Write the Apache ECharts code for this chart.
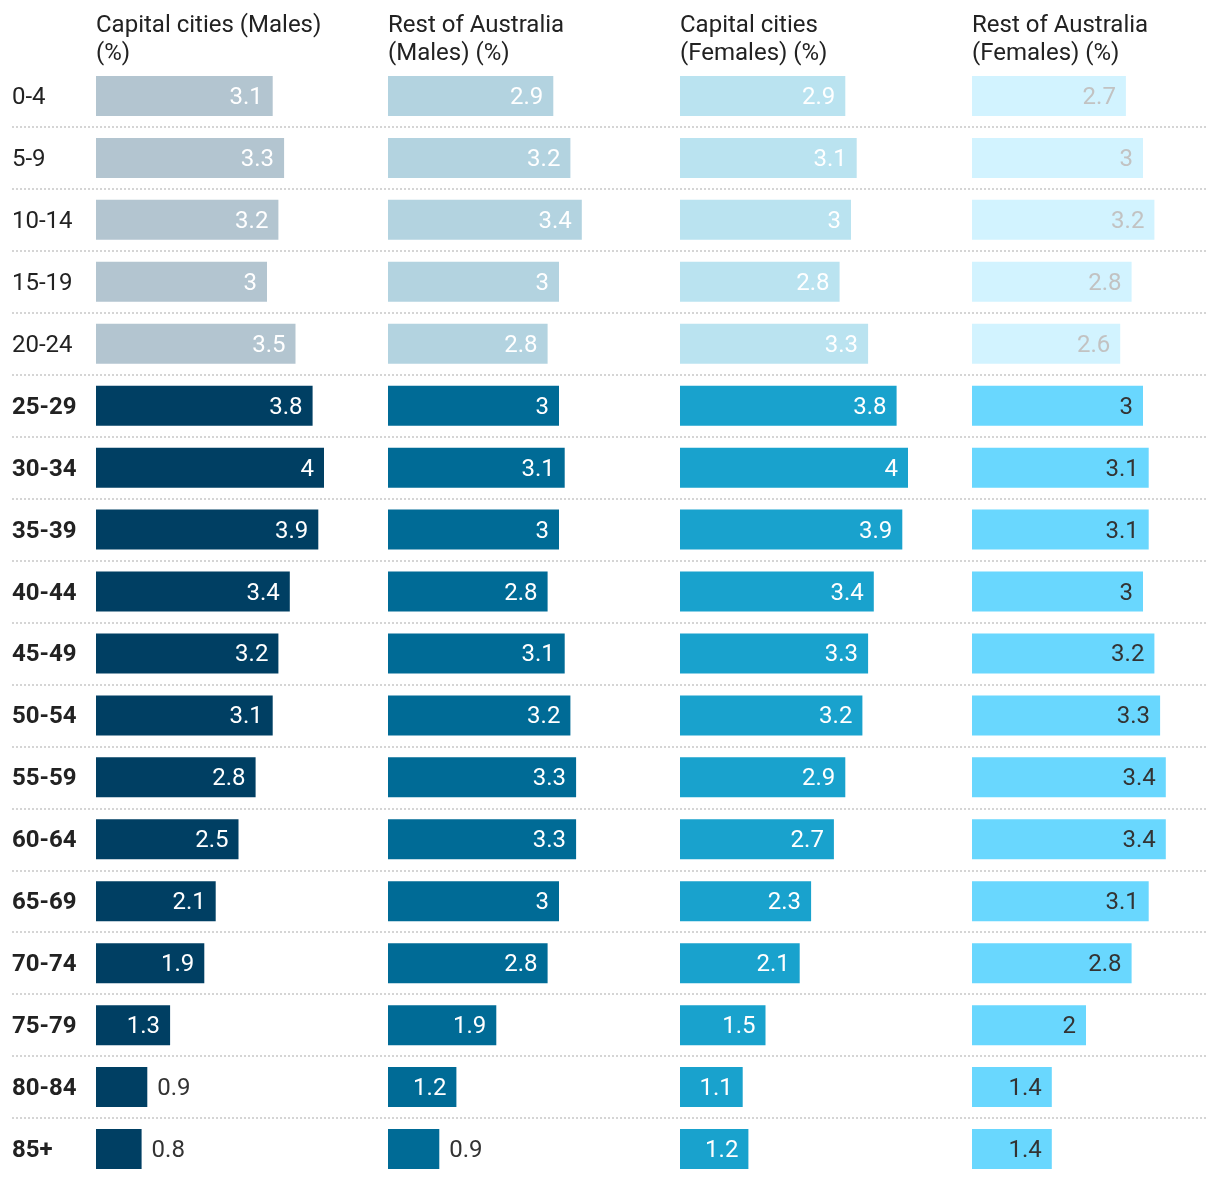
<!DOCTYPE html>
<html>
<head>
<meta charset="utf-8">
<script src="https://cdn.jsdelivr.net/npm/echarts@6/dist/echarts.min.js"></script>
<style>
html,body{margin:0;padding:0;background:#fff;}
#chart{width:1220px;height:1180px;}
</style>
</head>
<body>
<div id="chart"></div>
<script>
const categories = ['0-4','5-9','10-14','15-19','20-24','25-29','30-34','35-39','40-44','45-49','50-54','55-59','60-64','65-69','70-74','75-79','80-84','85+'];
const highlighted = ['25-29','30-34','35-39','40-44','45-49','50-54','55-59','60-64','65-69','70-74','75-79','80-84','85+'];
const seriesNames = ['Capital cities (Males)\n(%)','Rest of Australia\n(Males) (%)','Capital cities\n(Females) (%)','Rest of Australia\n(Females) (%)'];
const capitalMales   = [3.1,3.3,3.2,3.0,3.5,3.8,4.0,3.9,3.4,3.2,3.1,2.8,2.5,2.1,1.9,1.3,0.9,0.8];
const restMales      = [2.9,3.2,3.4,3.0,2.8,3.0,3.1,3.0,2.8,3.1,3.2,3.3,3.3,3.0,2.8,1.9,1.2,0.9];
const capitalFemales = [2.9,3.1,3.0,2.8,3.3,3.8,4.0,3.9,3.4,3.3,3.2,2.9,2.7,2.3,2.1,1.5,1.1,1.2];
const restFemales    = [2.7,3.0,3.2,2.8,2.6,3.0,3.1,3.1,3.0,3.2,3.3,3.4,3.4,3.1,2.8,2.0,1.4,1.4];

(function () {
const seriesData = [capitalMales, restMales, capitalFemales, restFemales];
const colors = ['#003f63','#006b96','#19a2cd','#69d7fe'];
const insideLabelColors = ['#ffffff','#ffffff','#ffffff','#333333'];
const fadedInsideLabelColors = ['#ffffff','#ffffff','#ffffff','#c2c2c2'];
const FONT = 'Roboto, "Noto Sans", sans-serif';
const FS = 24;

function fade(hex, a) {
  const n = parseInt(hex.slice(1), 16);
  const ch = [(n >> 16) & 255, (n >> 8) & 255, n & 255].map(c => Math.round(c * a + 255 * (1 - a)));
  return 'rgb(' + ch.join(',') + ')';
}

const colLeft = 96, colStep = 292, barSpan = 228, gridTop = 65, rowH = 62;
const gridHeight = rowH * categories.length;

const grids = [], xAxes = [], yAxes = [], series = [], titles = [];
for (let i = 0; i < 4; i++) {
  grids.push({left: colLeft + colStep * i, width: barSpan, top: gridTop, height: gridHeight, containLabel: false});
  xAxes.push({type: 'value', gridIndex: i, min: 0, max: 4, show: false});
  yAxes.push({
    type: 'category', gridIndex: i, data: categories, inverse: true,
    axisLine: {show: false}, axisTick: {show: false}, splitLine: {show: false},
    axisLabel: i === 0 ? {
      show: true, align: 'left', margin: colLeft - 12,
      formatter: v => (highlighted.includes(v) ? '{b|' + v + '}' : '{n|' + v + '}'),
      rich: {
        b: {fontFamily: FONT, fontSize: FS, fontWeight: 'bold', color: '#222', padding: [4, 0, 0, 0]},
        n: {fontFamily: FONT, fontSize: FS, color: '#222', padding: [4, 0, 0, 0]}
      }
    } : {show: false}
  });
  titles.push({
    text: seriesNames[i], left: colLeft + colStep * i, top: 12, padding: 0,
    textStyle: {fontFamily: FONT, fontSize: FS, fontWeight: 'normal', color: '#222', lineHeight: 28}
  });
  series.push({
    type: 'bar', xAxisIndex: i, yAxisIndex: i, barWidth: 40, silent: true,
    data: seriesData[i].map((v, k) => {
      const hl = highlighted.includes(categories[k]);
      const outside = v < 1;
      return {
        value: v,
        itemStyle: {color: hl ? colors[i] : fade(colors[i], 0.3)},
        label: outside ? {
          show: true, position: 'right', distance: 10, color: '#333', offset: [0, 2],
          fontFamily: FONT, fontSize: FS
        } : {
          show: true, position: 'insideRight', distance: 10, offset: [0, 2],
          color: hl ? insideLabelColors[i] : fadedInsideLabelColors[i],
          fontFamily: FONT, fontSize: FS
        }
      };
    })
  });
}

grids.push({left: 12, right: 12, top: gridTop, height: gridHeight});
xAxes.push({type: 'value', gridIndex: 4, min: 0, max: 1, show: false});
yAxes.push({
  type: 'value', gridIndex: 4, min: 0, max: categories.length, interval: 1, inverse: true,
  axisLine: {show: false}, axisTick: {show: false}, axisLabel: {show: false},
  splitLine: {show: true, showMinLine: false, showMaxLine: false, lineStyle: {color: '#c8c8c8', width: 1.5, type: [2, 2]}}
});

const chart = echarts.init(document.getElementById('chart'), null, {renderer: 'canvas'});
chart.setOption({
  animation: false,
  backgroundColor: '#fff',
  title: titles,
  grid: grids,
  xAxis: xAxes,
  yAxis: yAxes,
  series: series
});
})();
</script>
</body>
</html>
